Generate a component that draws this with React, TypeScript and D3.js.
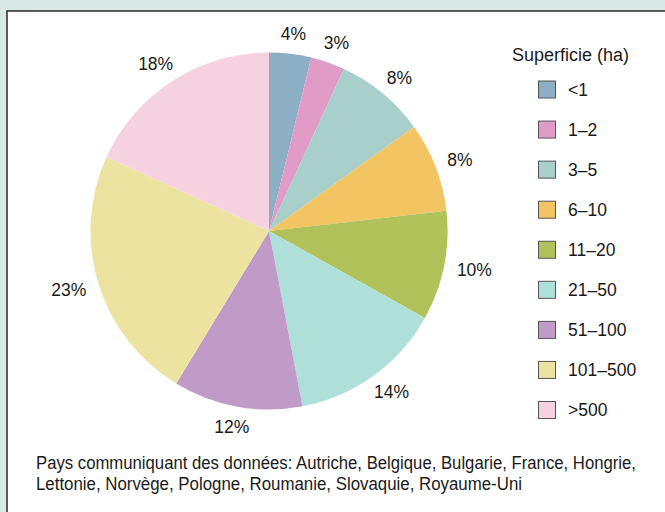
import React from "react";
import * as d3 from "d3";

const categories = ["<1", "1–2", "3–5", "6–10", "11–20", "21–50", "51–100", "101–500", ">500"];
const shares = [3.8, 3.1, 8.2, 8.1, 9.9, 13.9, 11.7, 23.1, 18.2];
const colors = ["#8cafc6", "#e09cc7", "#a8cfc9", "#f3c462", "#b2c25a", "#afdfd9", "#c09bc8", "#ece3a0", "#f6d2e0"];
const legendTitle = "Superficie (ha)";
const captionLines = [
  "Pays communiquant des données: Autriche, Belgique, Bulgarie, France, Hongrie,",
  "Lettonie, Norvège, Pologne, Roumanie, Slovaquie, Royaume-Uni",
];

const W = 665;
const H = 512;
const FONT = "'Liberation Sans', Arial, Helvetica, sans-serif";
const FS = 17.5;

function textWidth(s: string, fs: number) {
  let w = 0;
  for (const ch of s) {
    if (ch === "%") w += 0.889;
    else if (/[0-9]/.test(ch)) w += 0.556;
    else w += 0.55;
  }
  return w * fs;
}

export default function App() {
  const cx = 269;
  const cy = 231;
  const R = 178.5;
  const labelR = 192;

  const pie = d3.pie<number>().sort(null).value((d) => d);
  const arcs = pie(shares);
  const arcGen = d3.arc<d3.PieArcDatum<number>>().innerRadius(0).outerRadius(R);

  const legendY = d3.scaleLinear().domain([0, categories.length - 1]).range([89.5, 410]);

  return (
    <svg width={W} height={H} style={{ position: "absolute", left: 0, top: 0 }} fontFamily={FONT}>
      <rect x={0} y={0} width={W} height={H} fill="#d8e8e4" />
      <rect x={7} y={11} width={W + 20} height={H + 20} fill="#ffffff" stroke="#333333" strokeWidth={1.6} />
      <g transform={`translate(${cx},${cy})`}>
        {arcs.map((a, i) => (
          <path key={i} d={arcGen(a) || ""} fill={colors[i]} />
        ))}
        {arcs.map((a, i) => {
          const mid = (a.startAngle + a.endAngle) / 2;
          const ux = Math.sin(mid);
          const uy = -Math.cos(mid);
          const label = `${Math.round(shares[i])}%`;
          const w = textWidth(label, FS);
          const h = 14;
          const x = labelR * ux + (w / 2) * ux;
          const y = labelR * uy + (h / 2) * uy;
          return (
            <text key={i} x={x} y={y} dy="0.35em" textAnchor="middle" fontSize={FS} fill="#1a1a1a">
              {label}
            </text>
          );
        })}
      </g>
      <text x={512} y={55} dy="0.35em" fontSize={18} fill="#1a1a1a">
        {legendTitle}
      </text>
      {categories.map((c, i) => (
        <g key={c} transform={`translate(0,${legendY(i)})`}>
          <rect x={538.5} y={-8.5} width={17} height={17} fill={colors[i]} stroke="#555555" strokeWidth={1} />
          <text x={568} y={0} dy="0.35em" fontSize={FS} fill="#1a1a1a">
            {c}
          </text>
        </g>
      ))}
      {captionLines.map((l, i) => (
        <text key={i} x={36} y={469 + i * 21} fontSize={FS} fill="#1a1a1a" textLength={i === 0 ? 600 : 486} lengthAdjust="spacingAndGlyphs">
          {l}
        </text>
      ))}
    </svg>
  );
}
